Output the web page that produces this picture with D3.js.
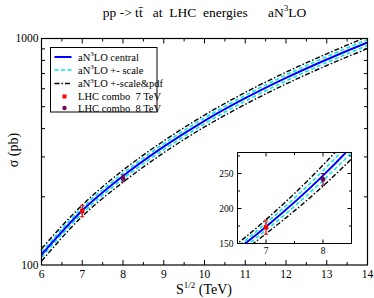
<!DOCTYPE html>
<html><head><meta charset="utf-8">
<script src="https://cdn.jsdelivr.net/npm/d3@7"></script>
<style>
body{margin:0;background:#fff;}
svg text{white-space:pre;font-family:'Liberation Serif','DejaVu Serif',serif;}
</style></head>
<body>
<svg id="c" width="374" height="298" font-family="Liberation Serif, DejaVu Serif, serif"></svg>
<script>
// ---- data ----
const energies = [6, 7, 8, 9, 10, 11, 12, 13, 14];
const central  = [111, 174, 247, 333, 433, 545, 670, 808, 960];
const scaleUp  = [114, 179, 254, 343, 446, 561, 690, 832, 989];
const scaleDn  = [108, 169, 240, 323, 420, 529, 650, 784, 931];
const totUp    = [118, 184, 262, 353, 459, 578, 710, 856, 1018];
const totDn    = [104, 164, 232, 313, 407, 512, 630, 760, 902];
const lhcE     = [7, 8];
const lhcVal   = [173.3, 241.5];
const lhcErr   = [10.1, 8.5];
const xTicks   = [6, 7, 8, 9, 10, 11, 12, 13, 14];
const yTickLabels = [100, 1000];
const insetXTicks = [7, 8];
const insetYTicks = [150, 200, 250];
const legendLabels = ["central", "+- scale", "+-scale&pdf", "LHC combo  7 TeV", "LHC combo  8 TeV"];

const FONT = "Liberation Serif";
const svg = d3.select("#c");
const L = 41.5, R = 367.5, T = 38.5, B = 265;

const x = d3.scaleLinear().domain([6, 14]).range([L, R]);
const y = d3.scaleLog().domain([100, 1000]).range([B, T]);

const series = [
  {vals: totUp, color: "#000", w: 1.4, dash: "5,2,1.5,2"},
  {vals: totDn, color: "#000", w: 1.4, dash: "5,2,1.5,2"},
  {vals: scaleUp, color: "#00e5ee", w: 1.5, dash: "4,2.5"},
  {vals: scaleDn, color: "#00e5ee", w: 1.5, dash: "4,2.5"},
  {vals: central, color: "#0000ff", w: 2, dash: null}
];
const pointColors = ["#ff0000", "#6e0a4e"];

function txt(g, xx, yy, size, anchor) {
  return g.append("text").attr("x", xx).attr("y", yy).attr("font-size", size)
    .attr("font-family", FONT).attr("text-anchor", anchor || "start").attr("fill", "#000");
}

svg.append("defs").append("clipPath").attr("id","mainClip")
  .append("rect").attr("x",L).attr("y",T).attr("width",R-L).attr("height",B-T);

function drawCurves(g, xs, ys) {
  series.forEach(s => {
    const line = d3.line().x((d,i)=>xs(energies[i])).y(d=>ys(d)).curve(d3.curveMonotoneX);
    g.append("path").datum(s.vals).attr("d", line).attr("fill","none")
      .attr("stroke", s.color).attr("stroke-width", s.w)
      .attr("stroke-dasharray", s.dash);
  });
  lhcE.forEach((e,i)=>{
    const col = pointColors[i];
    const cx = xs(e);
    g.append("line").attr("x1",cx).attr("x2",cx)
      .attr("y1",ys(lhcVal[i]-lhcErr[i])).attr("y2",ys(lhcVal[i]+lhcErr[i]))
      .attr("stroke",col).attr("stroke-width",1.2);
    [lhcVal[i]-lhcErr[i], lhcVal[i]+lhcErr[i]].forEach(v=>{
      g.append("line").attr("x1",cx-2).attr("x2",cx+2).attr("y1",ys(v)).attr("y2",ys(v))
        .attr("stroke",col).attr("stroke-width",1);
    });
    if (i===0) g.append("rect").attr("x",cx-2.2).attr("y",ys(lhcVal[i])-2.2).attr("width",4.4).attr("height",4.4).attr("fill",col);
    else g.append("circle").attr("cx",cx).attr("cy",ys(lhcVal[i])).attr("r",2.4).attr("fill",col);
  });
}

const main = svg.append("g").attr("clip-path","url(#mainClip)");
drawCurves(main, x, y);

svg.append("rect").attr("x",L).attr("y",T).attr("width",R-L).attr("height",B-T)
  .attr("fill","none").attr("stroke","#000").attr("stroke-width",1.2);

const xMinor = d3.range(6.5, 14, 1);
xTicks.forEach(t=>{
  svg.append("line").attr("x1",x(t)).attr("x2",x(t)).attr("y1",B).attr("y2",B-5).attr("stroke","#000");
  svg.append("line").attr("x1",x(t)).attr("x2",x(t)).attr("y1",T).attr("y2",T+5).attr("stroke","#000");
  txt(svg, x(t), B+12.5, 11.5, "middle").text(t);
});
xMinor.forEach(t=>{
  svg.append("line").attr("x1",x(t)).attr("x2",x(t)).attr("y1",B).attr("y2",B-3).attr("stroke","#000");
  svg.append("line").attr("x1",x(t)).attr("x2",x(t)).attr("y1",T).attr("y2",T+3).attr("stroke","#000");
});
const yMinor = d3.range(200, 1000, 100);
yMinor.forEach(t=>{
  svg.append("line").attr("x1",L).attr("x2",L+3.5).attr("y1",y(t)).attr("y2",y(t)).attr("stroke","#000");
  svg.append("line").attr("x1",R).attr("x2",R-3.5).attr("y1",y(t)).attr("y2",y(t)).attr("stroke","#000");
});
yTickLabels.forEach(t=>{
  txt(svg, L-3, y(t)+3.5, 11.5, "end").text(t);
});

// axis titles
const xl = txt(svg, 204, 293.5, 14, "middle");
xl.append("tspan").text("S");
xl.append("tspan").attr("font-size",9).attr("dy",-6).text("1/2");
xl.append("tspan").attr("dy",6).text(" (TeV)");
txt(svg, 0, 0, 14, "middle").attr("transform","translate(18,150) rotate(-90)").text("\u03c3 (pb)");

// title
const tt = txt(svg, 204.5, 16.5, 13.5, "middle");
tt.append("tspan").text("pp -> tt\u0304   at  LHC  energies      aN");
tt.append("tspan").attr("font-size",9).attr("dy",-5.5).text("3");
tt.append("tspan").attr("dy",5.5).text("LO");

// legend
const lg = svg.append("g");
lg.append("rect").attr("x",50.5).attr("y",47.5).attr("width",106.5).attr("height",64.5)
  .attr("fill","#fff").attr("stroke","#000").attr("stroke-width",1);
const rowY = [57, 70, 83.5, 96.5, 108];
const legStyles = [series[4], series[2], series[0]];
for (let i=0;i<3;i++){
  lg.append("line").attr("x1",54.5).attr("x2",71.5).attr("y1",rowY[i]).attr("y2",rowY[i])
    .attr("stroke",legStyles[i].color).attr("stroke-width",legStyles[i].w)
    .attr("stroke-dasharray",legStyles[i].dash);
  const t = txt(lg, 78, rowY[i]+3.5, 10.5);
  t.append("tspan").text("aN");
  t.append("tspan").attr("font-size",7).attr("dy",-4.5).text("3");
  t.append("tspan").attr("dy",4.5).text("LO " + legendLabels[i]);
}
lg.append("rect").attr("x",62.5).attr("y",rowY[3]-2).attr("width",4).attr("height",4).attr("fill",pointColors[0]);
lg.append("circle").attr("cx",64.5).attr("cy",rowY[4]).attr("r",2.2).attr("fill",pointColors[1]);
for (let i=3;i<5;i++){
  txt(lg, 78, rowY[i]+3.5, 10.5).text(legendLabels[i]);
}

// inset
const iL = 237.5, iR = 351.5, iT = 152.5, iB = 243.5;
const xi = d3.scaleLinear().domain([6.5, 8.5]).range([iL, iR]);
const yi = d3.scaleLinear().domain([150, 280]).range([iB, iT]);
svg.append("rect").attr("x",iL).attr("y",iT).attr("width",iR-iL).attr("height",iB-iT).attr("fill","#fff");
svg.select("defs").append("clipPath").attr("id","insClip")
  .append("rect").attr("x",iL).attr("y",iT).attr("width",iR-iL).attr("height",iB-iT);
const ins = svg.append("g").attr("clip-path","url(#insClip)");
drawCurves(ins, xi, yi);
svg.append("rect").attr("x",iL).attr("y",iT).attr("width",iR-iL).attr("height",iB-iT)
  .attr("fill","none").attr("stroke","#000").attr("stroke-width",1);
insetXTicks.forEach(t=>{
  svg.append("line").attr("x1",xi(t)).attr("x2",xi(t)).attr("y1",iB).attr("y2",iB-4).attr("stroke","#000");
  svg.append("line").attr("x1",xi(t)).attr("x2",xi(t)).attr("y1",iT).attr("y2",iT+4).attr("stroke","#000");
  txt(svg, xi(t), iB+10, 9.5, "middle").text(t);
});
[7.5].forEach(t=>{
  svg.append("line").attr("x1",xi(t)).attr("x2",xi(t)).attr("y1",iB).attr("y2",iB-2.5).attr("stroke","#000");
  svg.append("line").attr("x1",xi(t)).attr("x2",xi(t)).attr("y1",iT).attr("y2",iT+2.5).attr("stroke","#000");
});
insetYTicks.forEach(t=>{
  svg.append("line").attr("x1",iL).attr("x2",iL+4).attr("y1",yi(t)).attr("y2",yi(t)).attr("stroke","#000");
  svg.append("line").attr("x1",iR).attr("x2",iR-4).attr("y1",yi(t)).attr("y2",yi(t)).attr("stroke","#000");
  txt(svg, iL-4, yi(t)+3, 9.5, "end").text(t);
});
[175, 225, 275].forEach(t=>{
  svg.append("line").attr("x1",iL).attr("x2",iL+2.5).attr("y1",yi(t)).attr("y2",yi(t)).attr("stroke","#000");
  svg.append("line").attr("x1",iR).attr("x2",iR-2.5).attr("y1",yi(t)).attr("y2",yi(t)).attr("stroke","#000");
});
</script>
</body></html>
